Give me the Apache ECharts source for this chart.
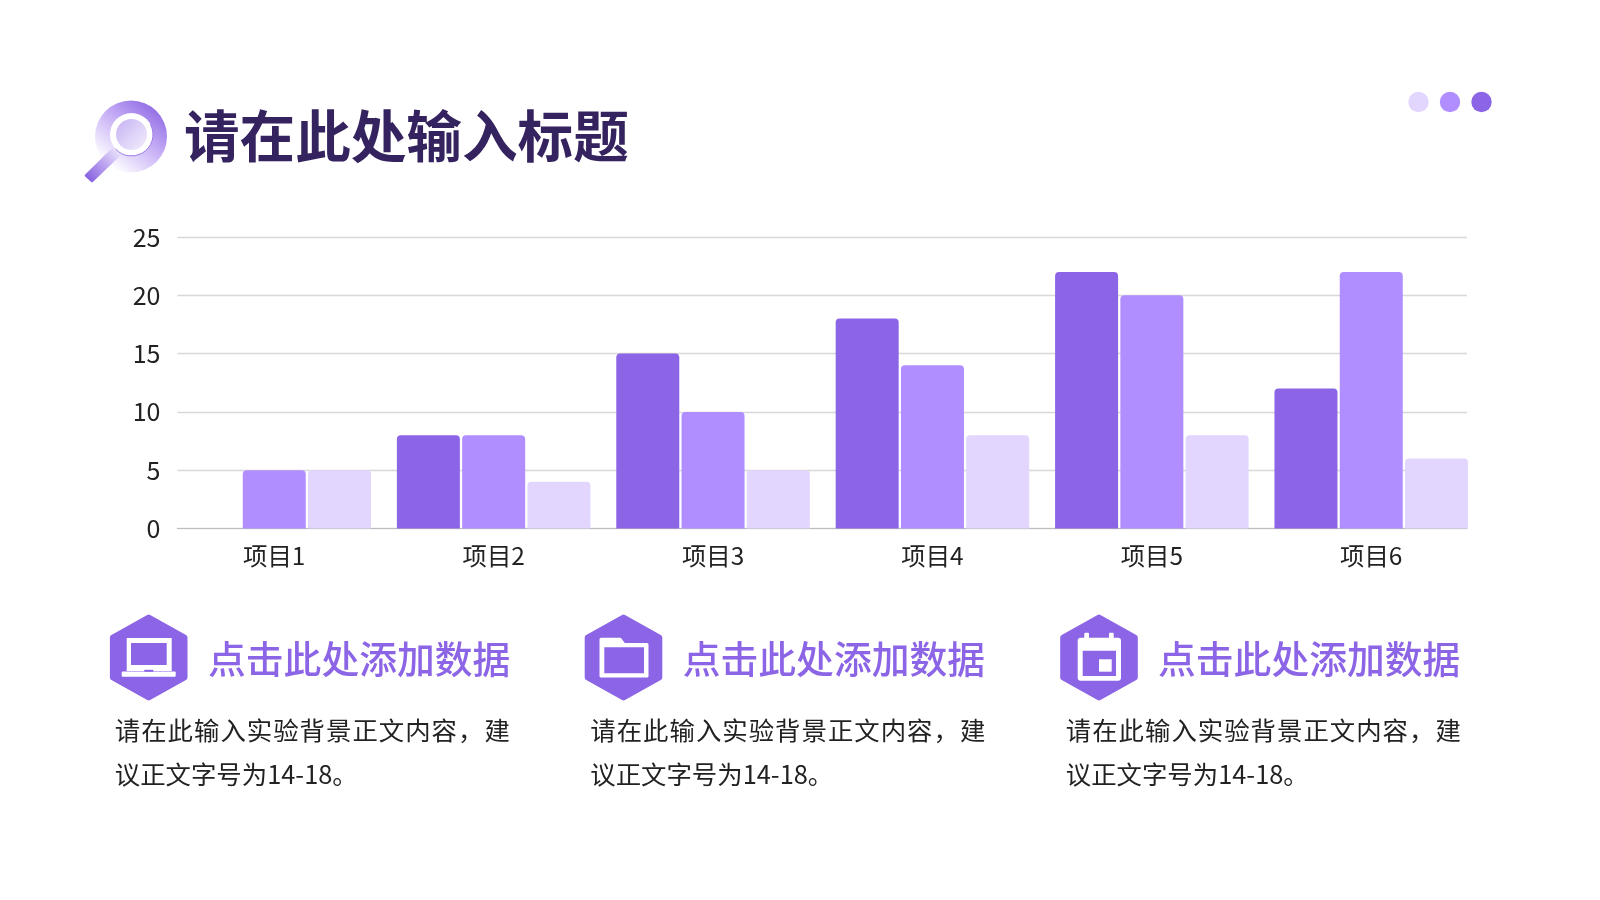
<!DOCTYPE html>
<html><head><meta charset="utf-8">
<style>html,body{margin:0;padding:0;background:#fff}#c{width:1600px;height:900px}</style>
<script src="https://cdn.jsdelivr.net/npm/echarts@6/dist/echarts.min.js"></script>
</head><body><div id="c"></div>
<script>
const categories = ['项目1','项目2','项目3','项目4','项目5','项目6'];
const seriesA = [0,8,15,18,22,12];
const seriesB = [5,8,10,14,20,22];
const seriesC = [5,4,5,8,8,6];
const yTicks = {min:0,max:25,interval:5};
const titleText = '请在此处输入标题';
const headText = '点击此处添加数据';
const bodyLine1 = '请在此输入实验背景正文内容，建';
const bodyLine2 = '议正文字号为14-18。';
const DARK='#8c64e6', MID='#b08eff', LIGHT='#e2d6ff';
const FONT='"Noto Sans CJK SC","Noto Sans",sans-serif';

function txt(x,y,text,size,color,weight){
  return {type:'text',x:x,y:y,z:10,style:{text:text,fontFamily:FONT,fontSize:size,fontWeight:weight||'normal',fill:color,textVerticalAlign:'middle',textBaseline:'middle'}};
}
function hex(cx,cy){
  const w=35.8,h=40;
  return {type:'polygon',z:5,shape:{points:[[cx,cy-h],[cx+w,cy-h/2],[cx+w,cy+h/2],[cx,cy+h],[cx-w,cy+h/2],[cx-w,cy-h/2]]},
    style:{fill:DARK,stroke:DARK,lineWidth:6,lineJoin:'round'}};
}
const W='#ffffff';
function rect(x,y,w,h,fill,r){return {type:'rect',z:6,shape:{x:x,y:y,width:w,height:h,r:r||0},style:{fill:fill}};}
const icons=[
  // laptop
  rect(126.7,638,45,33,W), rect(131,643,35.7,22,DARK),
  rect(121.7,671.5,54,5.3,W,1), rect(144.3,669.8,9,2,DARK),
  // folder
  {type:'polygon',z:6,shape:{points:[[601,639.2],[620,639.2],[624,644.5],[647,644.5],[647,676],[601,676]]},style:{fill:W,stroke:W,lineWidth:3,lineJoin:'round'}},
  rect(604.3,647.3,39.7,26,DARK),
  // calendar
  rect(1077.7,637.7,43.3,43,W,3), rect(1084.3,632.7,4.7,9,W,1), rect(1109,632.7,4.7,9,W,1),
  rect(1082.7,650.7,33.3,25.3,DARK), rect(1099,659.3,12.7,12.4,W)
];
const ringGrad={type:'linear',x:1,y:0,x2:0.25,y2:0.95,colorStops:[{offset:0,color:'#7d55dd'},{offset:0.5,color:'#c3aaf5'},{offset:1,color:'#ffffff'}]};
const lensGrad={type:'linear',x:0,y:0,x2:1,y2:1,colorStops:[{offset:0,color:'#c6b2f3'},{offset:1,color:'#f3effd'}]};
const handleGrad={type:'linear',x:0,y:1,x2:1,y2:0,colorStops:[{offset:0,color:'#7d55dd'},{offset:0.55,color:'#bda6f0'},{offset:1,color:'#f1ecfc'}]};
const magnifier=[
  {type:'circle',z:5,shape:{cx:131,cy:136.5,r:36},style:{fill:ringGrad}},
  {type:'circle',z:5,shape:{cx:131.5,cy:134.5,r:21.5},style:{fill:'#fff'}},
  {type:'arc',z:5,shape:{cx:131.5,cy:134.5,r:21.5,startAngle:-0.5,endAngle:2.4},style:{stroke:'#9d7ce8',lineWidth:1,fill:null}},
  {type:'circle',z:6,shape:{cx:131.5,cy:134.5,r:15.5},style:{fill:lensGrad}},
  {type:'polygon',z:6,shape:{points:[[112.5,149.5],[119,155],[92,181],[86,175.5]]},style:{fill:handleGrad,stroke:handleGrad,lineWidth:2.5,lineJoin:'round'}}
];
const dots=[[1418.5,LIGHT],[1450,MID],[1481.5,DARK]].map(d=>({type:'circle',z:5,shape:{cx:d[0],cy:102,r:10.2},style:{fill:d[1]}}));
const cols=[[208,115.3,hex(148.7,657.5)],[682.7,590.8,hex(623.5,657.5)],[1158,1066.3,hex(1099,657.5)]];
const blocks=[];
const ADV=26.4;
cols.forEach(c=>{
  blocks.push(c[2]);
  blocks.push(txt(c[0],659,headText,37.8,DARK,'500'));
  // first line is justified in the source: wider spacing than the second
  Array.from(bodyLine1).forEach((ch,i)=>blocks.push(txt(c[1]-0.5+i*ADV,730,ch,25.4,'#222222')));
  blocks.push(txt(c[1]-0.5,774,bodyLine2,25.4,'#222222'));
});

const bar=(name,data,color)=>({name:name,type:'bar',xAxisIndex:1,yAxisIndex:1,data:data,barWidth:63,barGap:'3.6%',
  itemStyle:{color:color,borderRadius:[4,4,0,0]},animation:false});

const chart=echarts.init(document.getElementById('c'),null,{renderer:'canvas'});
chart.setOption({
  animation:false,
  backgroundColor:'#fff',
  grid:[
    {left:177.5,right:133,top:237,bottom:371.5},
    {left:164.55,width:1316.4,top:237,bottom:371.5}
  ],
  xAxis:[
    {gridIndex:0,type:'category',data:categories,axisTick:{show:false},axisLabel:{show:false},
     axisLine:{show:true,lineStyle:{color:'#bdbdbd',width:1.2}}},
    {gridIndex:1,type:'category',data:categories,axisLine:{show:false},axisTick:{show:false},
     axisLabel:{fontFamily:FONT,fontSize:24.4,color:'#222222',margin:15.5}}
  ],
  yAxis:[
    {gridIndex:0,type:'value',min:yTicks.min,max:yTicks.max,interval:yTicks.interval,
     axisLine:{show:false},axisTick:{show:false},
     axisLabel:{fontFamily:FONT,fontSize:25,color:'#222222',margin:17,padding:[5,0,0,0]},
     splitLine:{lineStyle:{color:'#d8d8d8',width:1.4}}},
    {gridIndex:1,type:'value',min:yTicks.min,max:yTicks.max,interval:yTicks.interval,show:false}
  ],
  series:[bar('系列1',seriesA,DARK),bar('系列2',seriesB,MID),bar('系列3',seriesC,LIGHT)],
  graphic:{elements:[].concat(magnifier,dots,[txt(184,136,titleText,55.6,'#35235f','700')],blocks,icons)}
});
</script></body></html>
